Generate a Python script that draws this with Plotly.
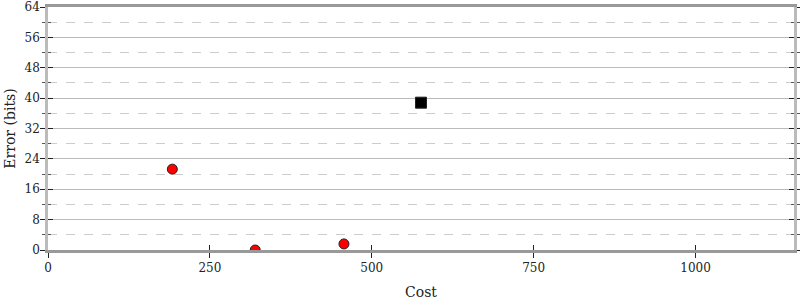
import plotly.graph_objects as go

red_cost = [192, 320, 457]
red_error = [21.3, 0.0, 1.6]
black_cost = [576]
black_error = [38.8]

x_ticks = [0, 250, 500, 750, 1000]
y_ticks = [0, 8, 16, 24, 32, 40, 48, 56, 64]

FONT = "DejaVu Serif"
fig = go.Figure()
fig.add_trace(go.Scatter(x=red_cost, y=red_error, mode="markers",
                         marker=dict(color="red", size=10, line=dict(color="#222", width=1)),
                         cliponaxis=True, showlegend=False))
fig.add_trace(go.Scatter(x=black_cost, y=black_error, mode="markers",
                         marker=dict(color="black", size=11, symbol="square", line=dict(color="#222", width=1)),
                         cliponaxis=True, showlegend=False))
# invisible trace for overlay axes (inside ticks)
fig.add_trace(go.Scatter(x=[None], y=[None], xaxis="x2", yaxis="y2", showlegend=False, hoverinfo="skip"))

xr = [0, 1152]
yr = [0, 64]
fig.update_layout(
    width=800, height=300,
    margin=dict(l=48, r=6, t=7, b=50),
    paper_bgcolor="white", plot_bgcolor="white",
    font=dict(family=FONT, size=12, color="#222"),
    xaxis=dict(range=xr, tickvals=x_ticks, ticks="outside", ticklen=5, tickcolor="#222", tickwidth=1,
               showgrid=False, zeroline=False, showline=True, linecolor="#999", linewidth=2.5, mirror=True,
               automargin=False,
               title=dict(text="Cost", standoff=14), tickfont=dict(family=FONT, size=12)),
    yaxis=dict(range=yr, tickvals=y_ticks, ticks="outside", ticklen=5, tickcolor="#222", tickwidth=1,
               showgrid=True, gridcolor="#bbb", gridwidth=1, zeroline=False, automargin=False,
               showline=True, linecolor="#bbb", linewidth=2.5, mirror="ticks", ticklabelstandoff=-2,
               minor=dict(dtick=4, tick0=0, showgrid=True, griddash="dash", gridcolor="#ccc",
                          ticks="outside", ticklen=3, tickcolor="#555"),
               title=dict(text="Error (bits)", standoff=6), tickfont=dict(family=FONT, size=12)),
    xaxis2=dict(range=xr, overlaying="x", tickvals=x_ticks, ticks="inside", ticklen=5, tickcolor="#222",
                showticklabels=False, showgrid=False, zeroline=False, showline=False, side="bottom"),
    yaxis2=dict(range=yr, overlaying="y", tickvals=y_ticks, ticks="inside", ticklen=5, tickcolor="#222",
                showticklabels=False, showgrid=False, zeroline=False, showline=False, mirror="ticks",
                minor=dict(dtick=4, tick0=0, ticks="inside", ticklen=3, tickcolor="#555", showgrid=False)),
)
fig.write_html("out.html")
